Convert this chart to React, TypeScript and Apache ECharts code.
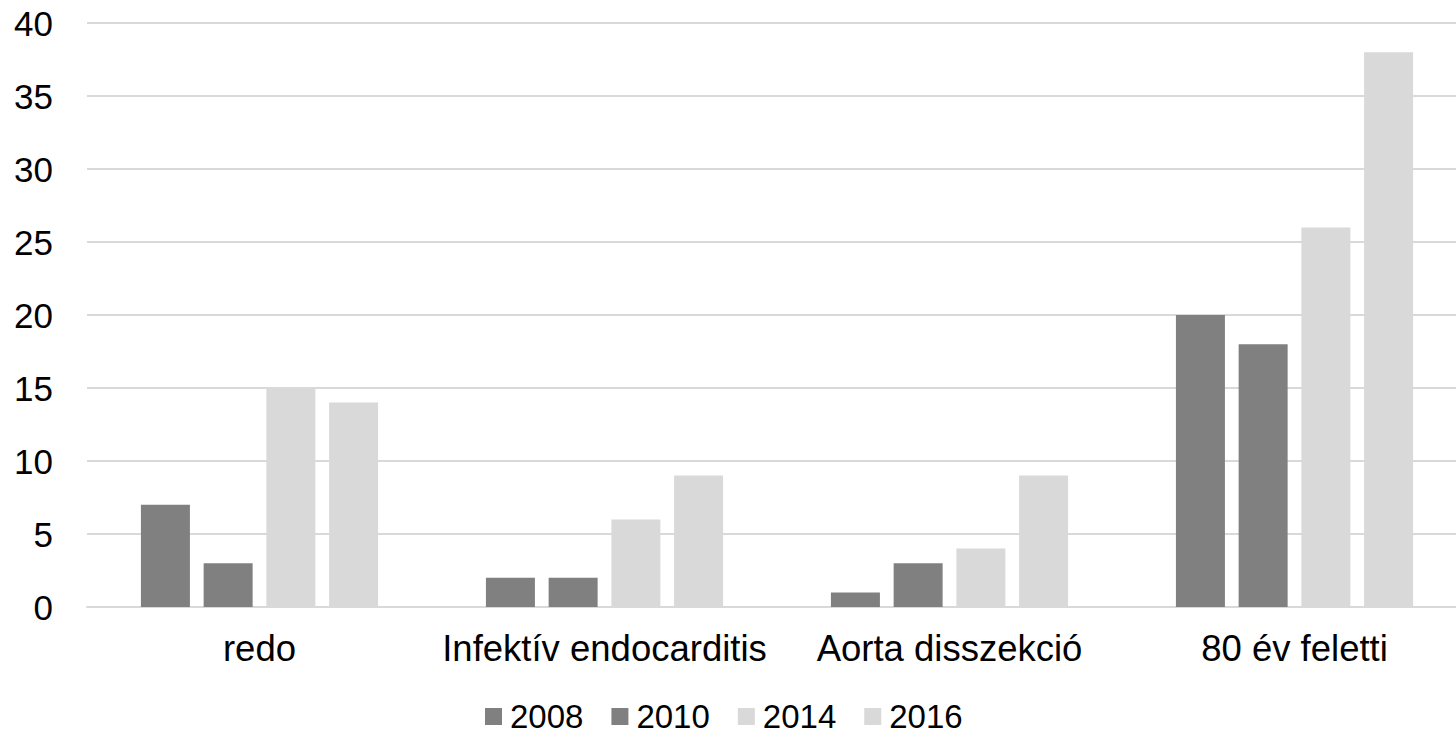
import React, { useEffect, useRef } from "react";
import * as echarts from "echarts";

const categories = ["redo", "Infektív endocarditis", "Aorta disszekció", "80 év feletti"];
const seriesNames = ["2008", "2010", "2014", "2016"];
const values2008 = [7, 2, 1, 20];
const values2010 = [3, 2, 3, 18];
const values2014 = [15, 6, 4, 26];
const values2016 = [14, 9, 9, 38];
const seriesColors = ["#808080", "#808080", "#d9d9d9", "#d9d9d9"];
const yTicks = { min: 0, max: 40, interval: 5 };

const FONT = "'Liberation Sans', Arial, sans-serif";

export default function App() {
  const ref = useRef<HTMLDivElement>(null);

  useEffect(() => {
    if (!ref.current) return;
    const chart = echarts.init(ref.current, null, { renderer: "svg" });
    const data = [values2008, values2010, values2014, values2016];
    chart.setOption({
      animation: false,
      backgroundColor: "#ffffff",
      // the plot runs slightly past the visible right edge
      grid: { left: 87, right: 0, top: 23, bottom: 127, containLabel: false },
      legend: {
        data: seriesNames,
        left: 480,
        top: 695,
        icon: "rect",
        itemWidth: 17,
        itemHeight: 17,
        itemGap: 28,
        textStyle: {
          fontFamily: FONT,
          fontSize: 33,
          lineHeight: 30,
          color: "#000",
          padding: [0, 0, 0, 3],
        },
      },
      xAxis: {
        type: "category",
        data: categories,
        axisTick: { show: false },
        axisLine: { lineStyle: { color: "#d9d9d9", width: 2 } },
        axisLabel: { fontFamily: FONT, fontSize: 36.5, color: "#000", margin: 23, interval: 0 },
      },
      yAxis: {
        type: "value",
        min: yTicks.min,
        max: yTicks.max,
        interval: yTicks.interval,
        axisLine: { show: false },
        axisTick: { show: false },
        splitLine: { lineStyle: { color: "#d9d9d9", width: 2 } },
        axisLabel: { fontFamily: FONT, fontSize: 35, color: "#000", margin: 34 },
      },
      series: seriesNames.map((name, i) => ({
        name,
        type: "bar",
        data: data[i],
        barWidth: 49,
        barGap: "28%",
        itemStyle: { color: seriesColors[i] },
      })),
    });
    return () => chart.dispose();
  }, []);

  return (
    <div
      style={{
        position: "fixed",
        left: 0,
        top: 0,
        width: 1456,
        height: 734,
        overflow: "hidden",
        background: "#fff",
      }}
    >
      <div ref={ref} style={{ width: 1467, height: 734 }} />
    </div>
  );
}
